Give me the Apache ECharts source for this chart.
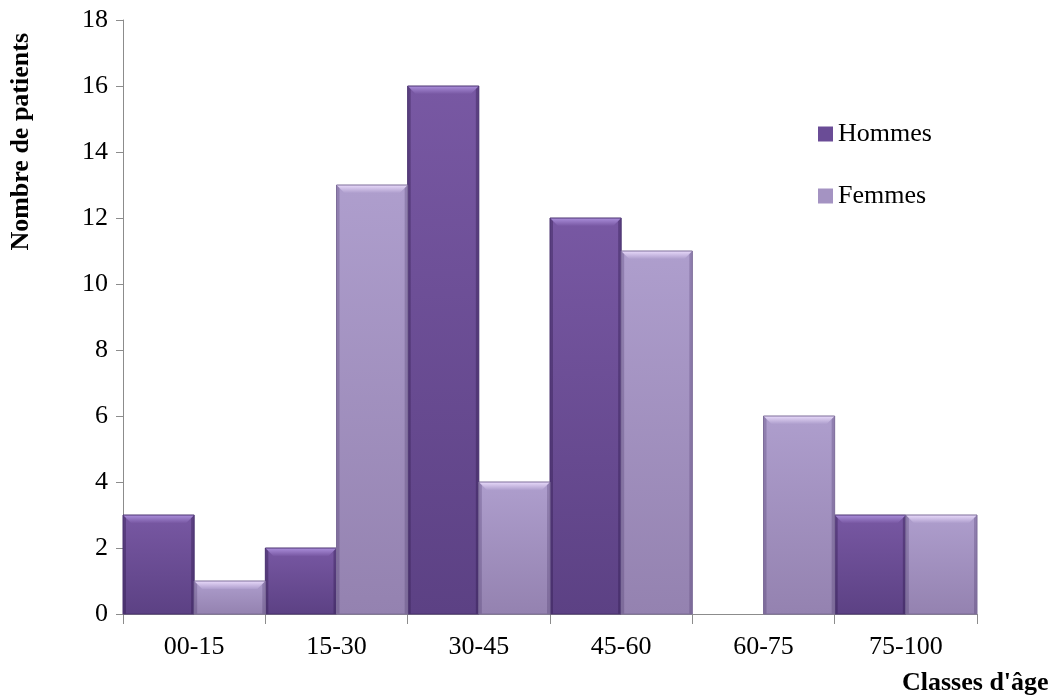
<!DOCTYPE html>
<html>
<head>
<meta charset="utf-8">
<script src="https://cdn.jsdelivr.net/npm/echarts@6/dist/echarts.min.js"></script>
<style>
  html, body { margin: 0; padding: 0; background: #fff; }
  #chart { width: 1053px; height: 700px; }
</style>
</head>
<body>
<div id="chart"></div>
<script>
// Age classes and patient counts by sex
var categories = ['00-15', '15-30', '30-45', '45-60', '60-75', '75-100'];
var hommes = [3, 2, 16, 12, 0, 3];
var femmes = [1, 13, 4, 11, 6, 3];
var yTicks = { min: 0, max: 18, interval: 2 };

var FONT = '"Liberation Serif", "Times New Roman", serif';

var palettes = {
  Hommes: { top: '#7858a3', bottom: '#5c4184', edge: 'rgba(40,20,70,0.35)', bevel: '#ab8fdb', border: '#4a3270', legend: '#6a4c96' },
  Femmes: { top: '#ae9ecd', bottom: '#9482b0', edge: 'rgba(60,40,90,0.25)', bevel: '#e8dafa', border: '#7d6d99', legend: '#a493c2' }
};

// Bevelled bar: the two series share a category, left half and right half
function makeRenderer(name, side) {
  var p = palettes[name];
  return function (params, api) {
    var cat = api.value(0);
    var val = api.value(1);
    if (!val) return null;
    var top = api.coord([cat, val]);
    var base = api.coord([cat, 0]);
    var w = api.size([1, 0])[0] / 2;
    var x0 = side === 0 ? top[0] - w : top[0];
    var x1 = x0 + w;
    var y0 = top[1], y1 = base[1];
    var b = Math.min(8, (y1 - y0) / 2);
    var e = 3;
    return {
      type: 'group',
      children: [
        { type: 'rect', shape: { x: x0, y: y0, width: x1 - x0, height: y1 - y0 },
          style: { fill: new echarts.graphic.LinearGradient(0, 0, 0, 1, [
            { offset: 0, color: p.top }, { offset: 1, color: p.bottom }]) } },
        { type: 'rect', shape: { x: x0, y: y0, width: e, height: y1 - y0 },
          style: { fill: p.edge } },
        { type: 'rect', shape: { x: x1 - e, y: y0, width: e, height: y1 - y0 },
          style: { fill: p.edge } },
        { type: 'polygon', shape: { points: [[x0, y0], [x1, y0], [x1 - b, y0 + b], [x0 + b, y0 + b]] },
          style: { fill: new echarts.graphic.LinearGradient(0, 0, 0, 1, [
            { offset: 0, color: p.bevel }, { offset: 1, color: p.top }]) } },
        { type: 'rect', shape: { x: x0, y: y0, width: x1 - x0, height: y1 - y0 },
          style: { fill: 'none', stroke: p.border, lineWidth: 1 } }
      ]
    };
  };
}

function toData(arr) {
  return arr.map(function (v, i) { return [i, v]; });
}

var chart = echarts.init(document.getElementById('chart'));
chart.setOption({
  animation: false,
  grid: { left: 123, right: 76, top: 20, bottom: 86 },
  legend: {
    orient: 'vertical',
    left: 813,
    top: 116,
    itemGap: 36,
    itemWidth: 15,
    itemHeight: 15,
    icon: 'rect',
    textStyle: { fontFamily: FONT, fontSize: 26, color: '#000' },
    data: ['Hommes', 'Femmes']
  },
  xAxis: {
    type: 'category',
    data: categories,
    boundaryGap: true,
    axisLine: { lineStyle: { color: '#8c8c8c', width: 1 } },
    axisTick: { show: true, length: 10, alignWithLabel: false, lineStyle: { color: '#8c8c8c' } },
    axisLabel: { fontFamily: FONT, fontSize: 26, color: '#000', margin: 20 },
    splitLine: { show: false }
  },
  yAxis: {
    type: 'value',
    min: yTicks.min,
    max: yTicks.max,
    interval: yTicks.interval,
    axisLine: { show: true, lineStyle: { color: '#8c8c8c', width: 1 } },
    axisTick: { show: true, length: 7, lineStyle: { color: '#8c8c8c' } },
    axisLabel: { fontFamily: FONT, fontSize: 26, color: '#000', margin: 15 },
    splitLine: { show: false }
  },
  graphic: [
    { type: 'text', left: 8, top: 33, rotation: Math.PI / 2,
      style: { text: 'Nombre de patients', font: 'bold 26px ' + FONT, fill: '#000' } },
    { type: 'text', left: 902, top: 670,
      style: { text: "Classes d'âge", font: 'bold 26px ' + FONT, fill: '#000' } }
  ],
  series: [
    { name: 'Hommes', type: 'custom', renderItem: makeRenderer('Hommes', 0),
      itemStyle: { color: palettes.Hommes.legend }, encode: { x: 0, y: 1 }, data: toData(hommes) },
    { name: 'Femmes', type: 'custom', renderItem: makeRenderer('Femmes', 1),
      itemStyle: { color: palettes.Femmes.legend }, encode: { x: 0, y: 1 }, data: toData(femmes) }
  ]
});
</script>
</body>
</html>
